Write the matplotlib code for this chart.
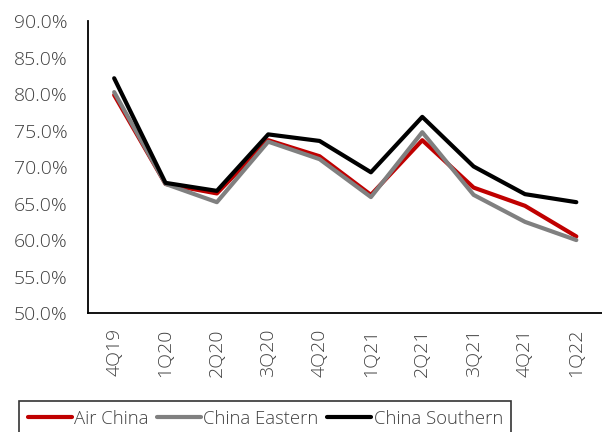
import matplotlib
matplotlib.use("Agg")
import matplotlib.pyplot as plt
from matplotlib.ticker import FuncFormatter

quarters = ["4Q19", "1Q20", "2Q20", "3Q20", "4Q20", "1Q21", "2Q21", "3Q21", "4Q21", "1Q22"]
air_china = [79.9, 67.7, 66.4, 73.7, 71.5, 66.2, 73.7, 67.2, 64.7, 60.5]
china_eastern = [80.3, 67.7, 65.2, 73.5, 71.1, 65.9, 74.8, 66.2, 62.5, 60.0]
china_southern = [82.2, 67.85, 66.75, 74.5, 73.6, 69.3, 76.9, 70.1, 66.3, 65.2]

plt.rcParams['font.family'] = ['Open Sans', 'DejaVu Sans']
plt.rcParams['font.weight'] = 'light'
txt = '#404040'
fs = 14

fig = plt.figure(figsize=(6.02, 4.32), dpi=100)
ax = fig.add_axes([0.147, 0.2755, 0.853, 0.675])
x = range(len(quarters))
ax.plot(x, air_china, color='#C00000', lw=3, label='Air China', solid_capstyle='round')
ax.plot(x, china_eastern, color='#808080', lw=3, label='China Eastern', solid_capstyle='round')
ax.plot(x, china_southern, color='#000000', lw=3, label='China Southern', solid_capstyle='round')

ax.set_xlim(-0.5, len(quarters) - 0.5)
ax.set_ylim(50, 90)
ax.set_yticks([50, 55, 60, 65, 70, 75, 80, 85, 90])
ax.yaxis.set_major_formatter(FuncFormatter(lambda v, p: f"{v:.1f}%"))
ax.set_xticks(list(x))
ax.set_xticklabels(quarters, rotation=90)
ax.tick_params(length=0, labelsize=fs, colors=txt)
ax.tick_params(axis='y', pad=15)
ax.tick_params(axis='x', pad=11)
for s in ['top', 'right']:
    ax.spines[s].set_visible(False)
for s in ['left', 'bottom']:
    ax.spines[s].set_linewidth(1.3)
    ax.spines[s].set_color('black')

leg = fig.legend(loc='upper left', bbox_to_anchor=(0.032, 0.071), ncol=3, frameon=True,
                 fontsize=13.3, handlelength=2.4, handletextpad=0.12, columnspacing=0.45,
                 borderpad=0.45, fancybox=False, borderaxespad=0)
leg.get_frame().set_edgecolor('black')
leg.get_frame().set_linewidth(1.2)
for t in leg.get_texts():
    t.set_color(txt)

fig.savefig('out.png', dpi=100)
